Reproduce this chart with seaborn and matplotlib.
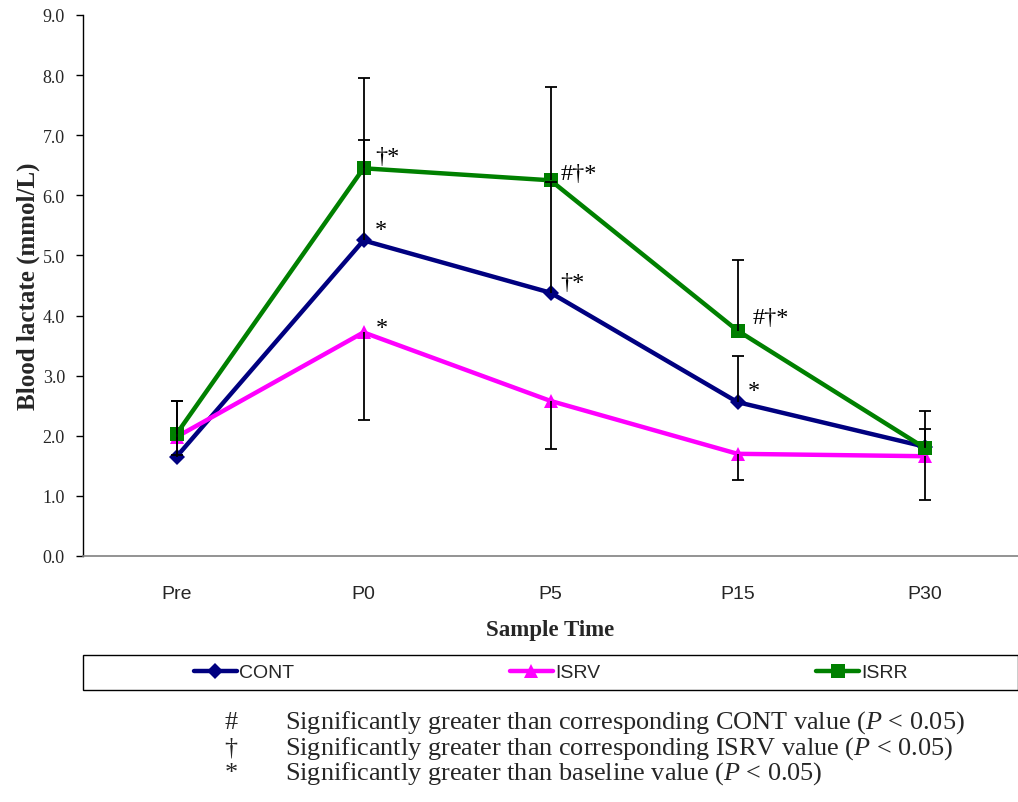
import numpy as np
import pandas as pd
import matplotlib
matplotlib.use("Agg")
import matplotlib.pyplot as plt
import seaborn as sns
from matplotlib import font_manager as fm
from matplotlib.patches import Rectangle

# ---------------- data ----------------
times = ["Pre", "P0", "P5", "P15", "P30"]
groups = ["CONT", "ISRV", "ISRR"]
cont = [1.65, 5.25, 4.38, 2.56, 1.82]
isrv = [1.98, 3.72, 2.58, 1.70, 1.66]
isrr = [2.03, 6.45, 6.25, 3.75, 1.80]
cont_err_up = [0.93, 1.67, 1.85, 0.77, 0.29]
isrv_err_down = [0.30, 1.46, 0.80, 0.43, 0.73]
isrr_err_up = [0.55, 1.50, 1.56, 1.17, 0.61]
ann_group = ["ISRR", "CONT", "ISRV", "ISRR", "CONT", "ISRR", "CONT"]
ann_time = ["P0", "P0", "P0", "P5", "P5", "P15", "P15"]
ann_text = ["†*", "*", "*", "#†*", "†*", "#†*", "*"]
footnote_sym = ["#", "†", "*"]
footnote_txt = [
    "Significantly greater than corresponding CONT value ($P$ < 0.05)",
    "Significantly greater than corresponding ISRV value ($P$ < 0.05)",
    "Significantly greater than baseline value ($P$ < 0.05)",
]

# ---------------- style ----------------
sns.set_theme(style="white")
serif = "Liberation Serif"
names = {f.name for f in fm.fontManager.ttflist}
sans = "Liberation Sans Narrow" if "Liberation Sans Narrow" in names else "Liberation Sans"
plt.rcParams["font.family"] = [serif, "DejaVu Serif"]
plt.rcParams["mathtext.fontset"] = "custom"
plt.rcParams["mathtext.rm"] = serif
plt.rcParams["mathtext.it"] = serif + ":italic"

colors = {"CONT": "#000080", "ISRV": "#FF00FF", "ISRR": "#008000"}
markers = {"CONT": "D", "ISRV": "^", "ISRR": "s"}
msize = {"CONT": 8.5, "ISRV": 10, "ISRR": 10}

df = pd.DataFrame({
    "time": times * 3,
    "group": ["CONT"] * 5 + ["ISRV"] * 5 + ["ISRR"] * 5,
    "value": cont + isrv + isrr,
})
vals = {"CONT": cont, "ISRV": isrv, "ISRR": isrr}

fig = plt.figure(figsize=(10.18, 8.03), dpi=100)
ax = fig.add_axes([83 / 1018, 1 - 557 / 803, (1018 - 83) / 1018, (557 - 16) / 803])

for g in groups:
    sub = df[df["group"] == g]
    sns.lineplot(data=sub, x="time", y="value", ax=ax, color=colors[g],
                 marker=markers[g], markersize=msize[g], markeredgewidth=0,
                 linewidth=3.2, label=g, sort=False, zorder=2)

# one-sided error bars (cap only at the far end)
xpos = np.arange(len(times))
def one_sided(base, ends):
    ax.vlines(xpos, base, ends, colors="black", linewidth=1.3, zorder=4)
    ax.plot(xpos, ends, linestyle="none", marker="_", markersize=9,
            markeredgewidth=1.3, color="black", zorder=4)

one_sided(isrr, np.array(isrr) + np.array(isrr_err_up))
one_sided(cont, np.array(cont) + np.array(cont_err_up))
one_sided(isrv, np.array(isrv) - np.array(isrv_err_down))

# significance markers
offsets = {("ISRR", "P0"): (12, 6), ("CONT", "P0"): (11, 5), ("ISRV", "P0"): (12, -1),
           ("ISRR", "P5"): (10, 1), ("CONT", "P5"): (10, 5),
           ("ISRR", "P15"): (15, 8), ("CONT", "P15"): (10, 6)}
for g, t, s in zip(ann_group, ann_time, ann_text):
    i = times.index(t)
    ax.annotate(s, xy=(i, vals[g][i]), xytext=offsets[(g, t)], textcoords="offset pixels",
                ha="left", va="baseline", fontsize=17.5, family=serif, color="black", zorder=5)

ax.set_xlim(-0.5, len(times) - 0.5)
ax.set_ylim(0, 9)
ax.set_yticks(np.arange(0, 9.01, 1.0))
ax.set_yticklabels([f"{v:.1f}" for v in np.arange(0, 9.01, 1.0)], family=serif, fontsize=13)
ax.set_xticks(xpos)
ax.set_xticklabels(times, family=sans, fontsize=14)
ax.set_xticks(np.arange(-0.5, len(times), 1.0), minor=True)
ax.tick_params(axis="x", which="major", length=0, pad=21)
ax.tick_params(axis="x", which="minor", length=5, width=1, color="#808080", direction="out")
ax.tick_params(axis="y", which="major", length=5, width=1, color="black", direction="out", pad=8, left=True)
for sp in ["top", "right"]:
    ax.spines[sp].set_visible(False)
ax.spines["left"].set_color("black")
ax.spines["left"].set_linewidth(1)
ax.spines["bottom"].set_color("#808080")
ax.spines["bottom"].set_linewidth(1.2)
ax.grid(False)

ax.set_xlabel("Sample Time", family=serif, fontsize=16.5, fontweight="bold", labelpad=12)
ax.set_ylabel("Blood lactate (mmol/L)", family=serif, fontsize=18, fontweight="bold", labelpad=2)

# legend box with three centred entries
handles, labels = ax.get_legend_handles_labels()
if ax.get_legend():
    ax.get_legend().remove()
box_l, box_b, box_w, box_h = 83 / 1018, 1 - 691 / 803, (1018 - 83) / 1018, 35 / 803
fig.patches.append(Rectangle((box_l, box_b), box_w, box_h, transform=fig.transFigure,
                             fill=False, edgecolor="black", linewidth=1.0))
centers = [244 / 1018, 555 / 1018, 862 / 1018]
for h, lab, cx in zip(handles, labels, centers):
    fig.legend([h], [lab], loc="center", bbox_to_anchor=(cx, box_b + box_h / 2),
               frameon=False, handlelength=2.2, handletextpad=0.1, borderpad=0,
               prop={"family": sans, "size": 14})

# footnotes
for k, (sym, txt) in enumerate(zip(footnote_sym, footnote_txt)):
    y = 1 - (723 + k * 25.5) / 803
    fig.text(231 / 1018, y, sym, family=serif, fontsize=18.9, ha="center", va="center")
    fig.text(285 / 1018, y, txt, family=serif, fontsize=18.9, ha="left", va="center")

fig.savefig("out.png", dpi=100)
